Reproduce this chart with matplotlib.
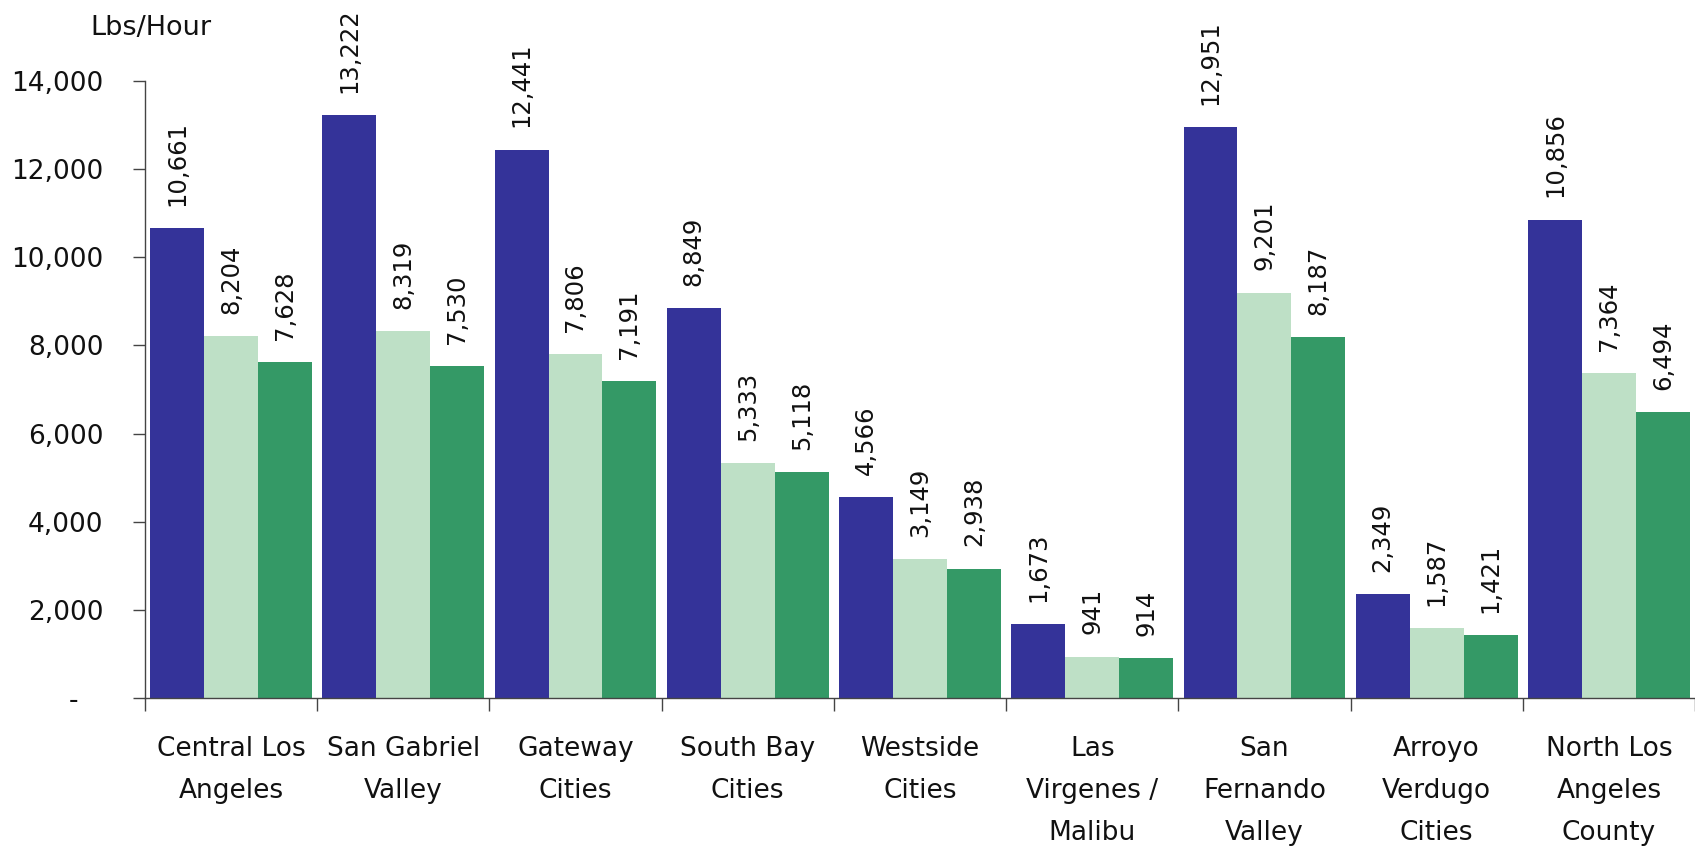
import matplotlib
matplotlib.use("Agg")
import matplotlib.pyplot as plt
import numpy as np

# Regions and emission rates (lbs/hour) for the three series
categories = [
    "Central Los\nAngeles", "San Gabriel\nValley", "Gateway\nCities",
    "South Bay\nCities", "Westside\nCities", "Las\nVirgenes /\nMalibu",
    "San\nFernando\nValley", "Arroyo\nVerdugo\nCities", "North Los\nAngeles\nCounty",
]
series_a = [10661, 13222, 12441, 8849, 4566, 1673, 12951, 2349, 10856]
series_b = [8204, 8319, 7806, 5333, 3149, 941, 9201, 1587, 7364]
series_c = [7628, 7530, 7191, 5118, 2938, 914, 8187, 1421, 6494]

y_ticks = [0, 2000, 4000, 6000, 8000, 10000, 12000, 14000]
y_tick_labels = ["-   ", "2,000", "4,000", "6,000", "8,000", "10,000", "12,000", "14,000"]
unit_label = "Lbs/Hour"

colors = ["#343399", "#BEE0C6", "#349966"]

plt.rcParams["font.family"] = ["DejaVu Sans"]

fig = plt.figure(figsize=(16.95, 8.5), dpi=100)
ax = fig.add_axes([0.0855, 0.1788, 0.9145, 0.7259])

x = np.arange(len(categories))
width = 0.313
offsets = [-width, 0.0, width]
for vals, off, col in zip([series_a, series_b, series_c], offsets, colors):
    bars = ax.bar(x + off, vals, width=width, color=col, linewidth=0, zorder=2)
    for b, v in zip(bars, vals):
        ax.annotate(f"{v:,}", (b.get_x() + b.get_width() / 2, v),
                    xytext=(0, 16), textcoords="offset points",
                    rotation=90, ha="center", va="bottom",
                    fontsize=17.5, color="#111111", annotation_clip=False)

ax.set_ylim(0, 14000)
ax.set_xlim(-0.5, -0.5 + 1550 / 173.0)

ax.set_yticks(y_ticks)
ax.set_yticklabels(y_tick_labels)
ax.tick_params(axis="y", length=9, width=1, color="#444444", pad=21,
               labelsize=19, labelcolor="#111111")

# Category labels at group centres, tick marks at group boundaries
ax.set_xticks(x)
ax.set_xticklabels(categories, linespacing=1.8)
ax.tick_params(axis="x", which="major", length=0, pad=27,
               labelsize=19, labelcolor="#111111")
ax.set_xticks(np.arange(len(categories) + 1) - 0.5, minor=True)
ax.tick_params(axis="x", which="minor", length=9, width=1, color="#444444")

for side in ["top", "right"]:
    ax.spines[side].set_visible(False)
for side in ["left", "bottom"]:
    ax.spines[side].set_color("#444444")
    ax.spines[side].set_linewidth(1)

fig.text(151 / 1695, 1 - 28 / 850, unit_label, ha="center", va="center",
         fontsize=19.5, color="#111111")

fig.savefig("out.png", dpi=100)
